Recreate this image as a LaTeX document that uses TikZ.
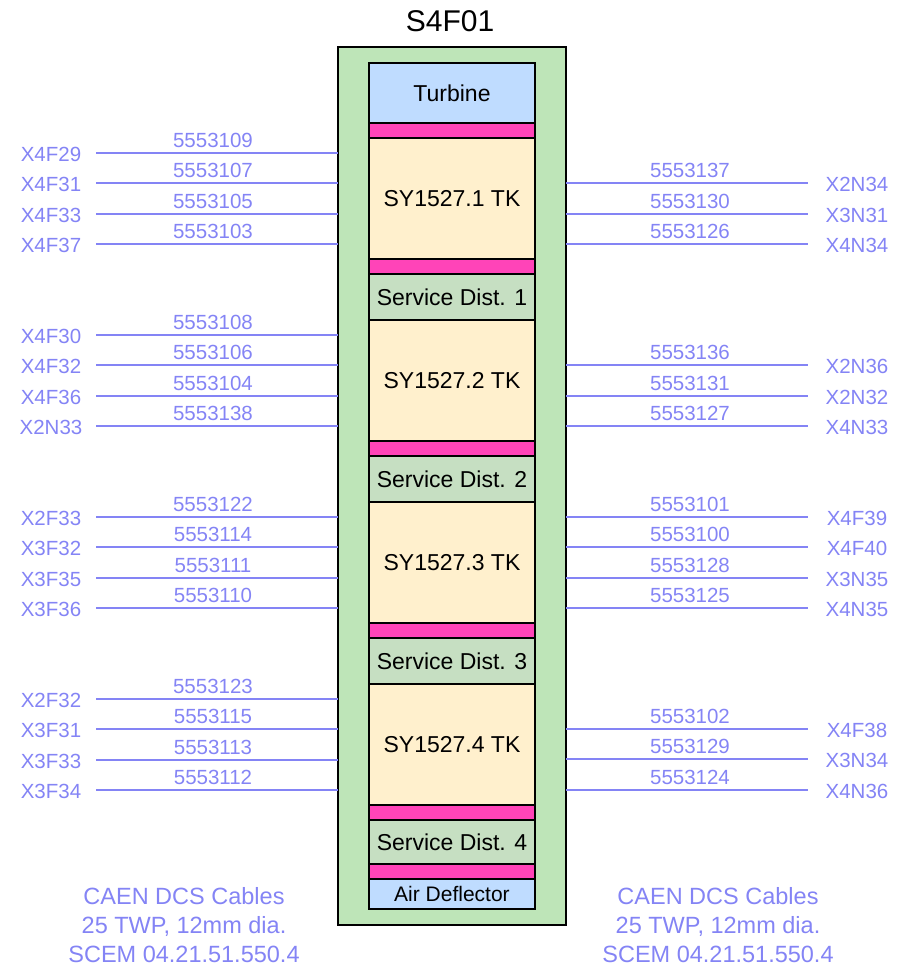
\documentclass[tikz,border=0pt]{standalone}
\usepackage{fontspec}
\setmainfont{Liberation Sans}
\definecolor{outergreen}{RGB}{190,229,184}
\definecolor{turbblue}{RGB}{191,220,255}
\definecolor{barpink}{RGB}{255,68,184}
\definecolor{tkfill}{RGB}{255,240,205}
\definecolor{sdfill}{RGB}{198,223,194}
\definecolor{cablecol}{RGB}{132,132,245}
\tikzset{
  slot/.style={draw=black, line width=2pt, inner sep=0pt, outer sep=0pt, minimum width=166pt, anchor=north west, font=\fontsize{23}{26}\selectfont},
  pinkbar/.style={slot, fill=barpink, minimum height=15pt},
  tkbox/.style={slot, fill=tkfill, minimum height=121pt},
  sdbox/.style={slot, fill=sdfill, minimum height=46pt},
  cable/.style={draw=cablecol, line width=1.6pt},
  cablelab/.style={text=cablecol, font=\fontsize{20.5}{24}\selectfont, inner sep=0pt},
}
\begin{document}
\begin{tikzpicture}[x=1pt, y=-1pt]
\useasboundingbox (0,0) rectangle (905,966);
\node[font=\fontsize{30}{34}\selectfont, inner sep=0pt] (title) at (450,21) {S4F01};
\node[draw=black, line width=2pt, fill=outergreen, anchor=north west, minimum width=228pt, minimum height=878pt, inner sep=0pt, outer sep=0pt] (outer) at (338,47) {};
% column of slots
\node[slot, fill=turbblue, minimum height=60pt] (turb) at (369,63) {\raisebox{-3pt}{Turbine}};
\node[pinkbar] (p1) at (369,123) {};
\node[tkbox] (tk1) at (369,138) {SY1527.1 TK};
\node[pinkbar] (p2) at (369,259) {};
\node[sdbox] (sd1) at (369,274) {Service Dist. 1};
\node[tkbox] (tk2) at (369,320) {SY1527.2 TK};
\node[pinkbar] (p3) at (369,441) {};
\node[sdbox] (sd2) at (369,456) {Service Dist. 2};
\node[tkbox] (tk3) at (369,502) {SY1527.3 TK};
\node[pinkbar] (p4) at (369,623) {};
\node[sdbox] (sd3) at (369,638) {Service Dist. 3};
\node[tkbox] (tk4) at (369,684) {SY1527.4 TK};
\node[pinkbar] (p5) at (369,805) {};
\node[sdbox, minimum height=44pt] (sd4) at (369,820) {Service Dist. 4};
\node[pinkbar] (p6) at (369,864) {};
\node[slot, fill=turbblue, minimum height=30pt, font=\fontsize{21}{24}\selectfont] (air) at (369,879) {Air Deflector};
% left cables
\foreach \y/\lab/\num in {
  153/X4F29/5553109, 183/X4F31/5553107, 214/X4F33/5553105, 244/X4F37/5553103,
  335/X4F30/5553108, 365/X4F32/5553106, 396/X4F36/5553104, 426/X2N33/5553138,
  517/X2F33/5553122, 547/X3F32/5553114, 578/X3F35/5553111, 608/X3F36/5553110,
  699/X2F32/5553123, 729/X3F31/5553115, 760/X3F33/5553113, 790/X3F34/5553112} {
  \coordinate (L\lab) at (96,\y);
  \node[cablelab] (n\lab) at (51,\y+1) {\lab};
  \node[cablelab] (c\lab) at (213,\y-13) {\num};
  \draw[cable] (L\lab) -- (outer.west |- L\lab);
}
% right cables
\foreach \y/\lab/\num in {
  183/X2N34/5553137, 214/X3N31/5553130, 244/X4N34/5553126,
  365/X2N36/5553136, 396/X2N32/5553131, 426/X4N33/5553127,
  517/X4F39/5553101, 547/X4F40/5553100, 578/X3N35/5553128, 608/X4N35/5553125,
  729/X4F38/5553102, 759/X3N34/5553129, 790/X4N36/5553124} {
  \coordinate (R\lab) at (808,\y);
  \node[cablelab] (n\lab) at (857,\y+1) {\lab};
  \node[cablelab] (c\lab) at (690,\y-13) {\num};
  \draw[cable] (outer.east |- R\lab) -- (R\lab);
}
% captions
\node[cablelab, align=center, font=\fontsize{23.5}{29}\selectfont] (capL) at (184,925) {CAEN DCS Cables\\25 TWP, 12mm dia.\\SCEM 04.21.51.550.4};
\node[cablelab, align=center, font=\fontsize{23.5}{29}\selectfont] (capR) at (718,925) {CAEN DCS Cables\\25 TWP, 12mm dia.\\SCEM 04.21.51.550.4};
\end{tikzpicture}
\end{document}
